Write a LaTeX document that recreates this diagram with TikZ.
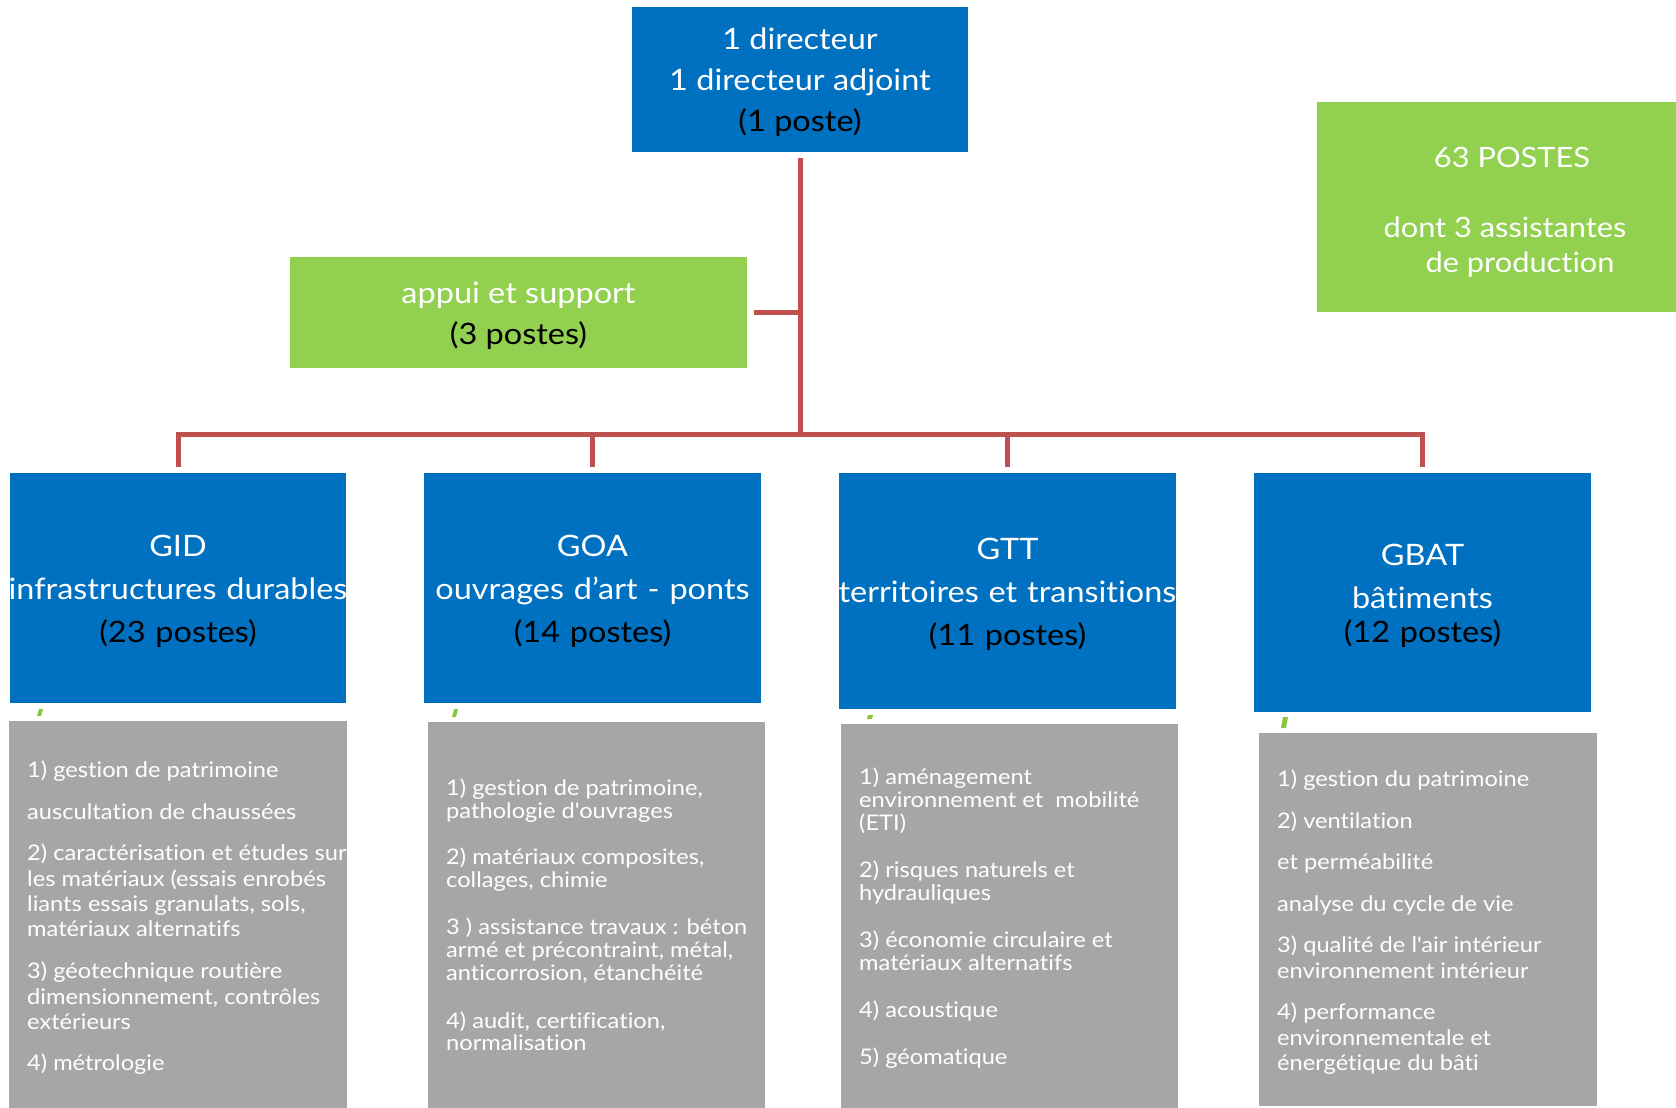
\documentclass[tikz,border=0pt]{standalone}
\usepackage{fontspec}
\setmainfont{Lato}[FakeStretch=1.1, Ligatures={NoCommon}, Contextuals={NoAlternate}]
\definecolor{bblue}{HTML}{0070C0}
\definecolor{ggreen}{HTML}{92D050}
\definecolor{ggrey}{HTML}{A6A6A6}
\definecolor{rred}{HTML}{C0504D}
\definecolor{tickgreen}{HTML}{8CC63F}
\begin{document}
\begin{tikzpicture}[x=1pt,y=-1pt,
  bluebox/.style={fill=bblue, inner sep=0pt},
  greenbox/.style={fill=ggreen, inner sep=0pt},
  greybox/.style={fill=ggrey, inner sep=0pt},
  boxtext/.style={inner sep=0pt, align=center, text=white, yshift=-3pt},
  conn/.style={draw=rred, line width=5pt},
  gline/.style={anchor=west, inner sep=0pt, text=white, text height=15pt, text depth=5pt, yshift=-2pt, font=\fontsize{21.5}{25}\selectfont},
  bigfont/.style={font=\fontsize{29.5}{41}\selectfont},
  grpfont/.style={font=\fontsize{29.5}{43}\selectfont, text width=340pt}]
\useasboundingbox (0,0) rectangle (1676,1108);
\fill[white] (0,0) rectangle (1676,1108);

% top
\node[bluebox, minimum width=336pt, minimum height=145pt] (dir) at (800,79.5) {};
\node[boxtext, bigfont] (dirt) at (dir.center)
  {1 directeur\\1 directeur adjoint\\\textcolor{black}{(1 poste)}};
\node[greenbox, minimum width=457pt, minimum height=111pt] (app) at (518.5,312.5) {};
\node[boxtext, bigfont] (appt) at (app.center)
  {appui et support\\\textcolor{black}{(3 postes)}};
\node[greenbox, minimum width=375pt, minimum height=210pt] (tot) at (1504.5,207) {};
\node[boxtext, font=\fontsize{28}{35}\selectfont] (tott) at (1505,209.5)
  {\hspace*{14pt}63 POSTES\\[35pt]dont 3 assistantes\\\hspace*{30pt}de production};

% groups
\node[bluebox, minimum width=336pt, minimum height=230pt] (gid) at (178,588) {};
\node[boxtext, grpfont] (gidt) at (gid.center)
  {GID\\infrastructures durables\\\textcolor{black}{(23 postes)}};
\node[bluebox, minimum width=337pt, minimum height=230pt] (goa) at (592.5,588) {};
\node[boxtext, grpfont] (goat) at (goa.center)
  {GOA\\ouvrages d’art - ponts\\\textcolor{black}{(14 postes)}};
\node[bluebox, minimum width=337pt, minimum height=236pt] (gtt) at (1007.5,591) {};
\node[boxtext, grpfont] (gttt) at (gtt.center)
  {GTT\\territoires et transitions\\\textcolor{black}{(11 postes)}};
\node[bluebox, minimum width=337pt, minimum height=239pt] (gbat) at (1422.5,592.5) {};
\node[boxtext, grpfont] (gbatt) at (gbat.center)
  {GBAT\\bâtiments\\[-9pt]\textcolor{black}{(12 postes)}};

% connectors
\coordinate (hub) at (800,434);
\draw[conn] ([yshift=-6pt]dir.south) -- (hub);
\draw[conn] ([xshift=7pt]app.east) -- (app.east -| hub);
\draw[conn] ([yshift=6pt]gid.north) |- (hub) -| ([yshift=6pt]gbat.north);
\draw[conn] (goa.north |- hub) -- ([yshift=6pt]goa.north);
\draw[conn] (gtt.north |- hub) -- ([yshift=6pt]gtt.north);

% grey boxes
\node[greybox, minimum width=338pt, minimum height=389pt] (gidd) at (178,915.5) {};
\node[greybox, minimum width=337pt, minimum height=388pt] (goad) at (596.5,916) {};
\node[greybox, minimum width=337pt, minimum height=386pt] (gttd) at (1009.5,917) {};
\node[greybox, minimum width=338pt, minimum height=373pt] (gbatd) at (1428,919.5) {};

% small green ticks
\fill[tickgreen] (37,716) -- (39,709) -- (43,709) -- (41,716) -- cycle;
\fill[tickgreen] (452,717) -- (454,709) -- (458,709) -- (456,717) -- cycle;
\fill[tickgreen] (867,719) -- (868,715) -- (873,715) -- (872,719) -- cycle;
\fill[tickgreen] (1281,728) -- (1283,717) -- (1288,717) -- (1286,728) -- cycle;

% grey texts
\foreach \yy/\txt [count=\i] in {
  770/{1) gestion de patrimoine},
  812/{auscultation de chaussées},
  853/{2) caractérisation et études sur},
  879/{les matériaux (essais enrobés},
  904/{liants essais granulats, sols,},
  929/{matériaux alternatifs},
  971/{3) géotechnique routière},
  997/{dimensionnement, contrôles},
  1022/{extérieurs},
  1063/{4) métrologie}}
  \node[gline] (gidl\i) at (27,\yy) {\txt};

\foreach \yy/\txt [count=\i] in {
  788/{1) gestion de patrimoine,},
  811/{pathologie d\textquotesingle ouvrages},
  857/{2) matériaux composites,},
  880/{collages, chimie},
  927/{3 ) assistance travaux : béton},
  950/{armé et précontraint, métal,},
  973/{anticorrosion, étanchéité},
  1021/{4) audit, certification,},
  1043/{normalisation}}
  \node[gline] (goal\i) at (446,\yy) {\txt};

\foreach \yy/\txt [count=\i] in {
  777/{1) aménagement},
  800/{environnement et\ \ mobilité},
  823/{(ETI)},
  870/{2) risques naturels et},
  893/{hydrauliques},
  940/{3) économie circulaire et},
  963/{matériaux alternatifs},
  1010/{4) acoustique},
  1057/{5) géomatique}}
  \node[gline] (gttl\i) at (859,\yy) {\txt};

\foreach \yy/\txt [count=\i] in {
  779/{1) gestion du patrimoine},
  821/{2) ventilation},
  862/{et perméabilité},
  904/{analyse du cycle de vie},
  945/{3) qualité de l\textquotesingle air intérieur},
  971/{environnement intérieur},
  1012/{4) performance},
  1038/{environnementale et},
  1063/{énergétique du bâti}}
  \node[gline] (gbatl\i) at (1277,\yy) {\txt};
\end{tikzpicture}
\end{document}
